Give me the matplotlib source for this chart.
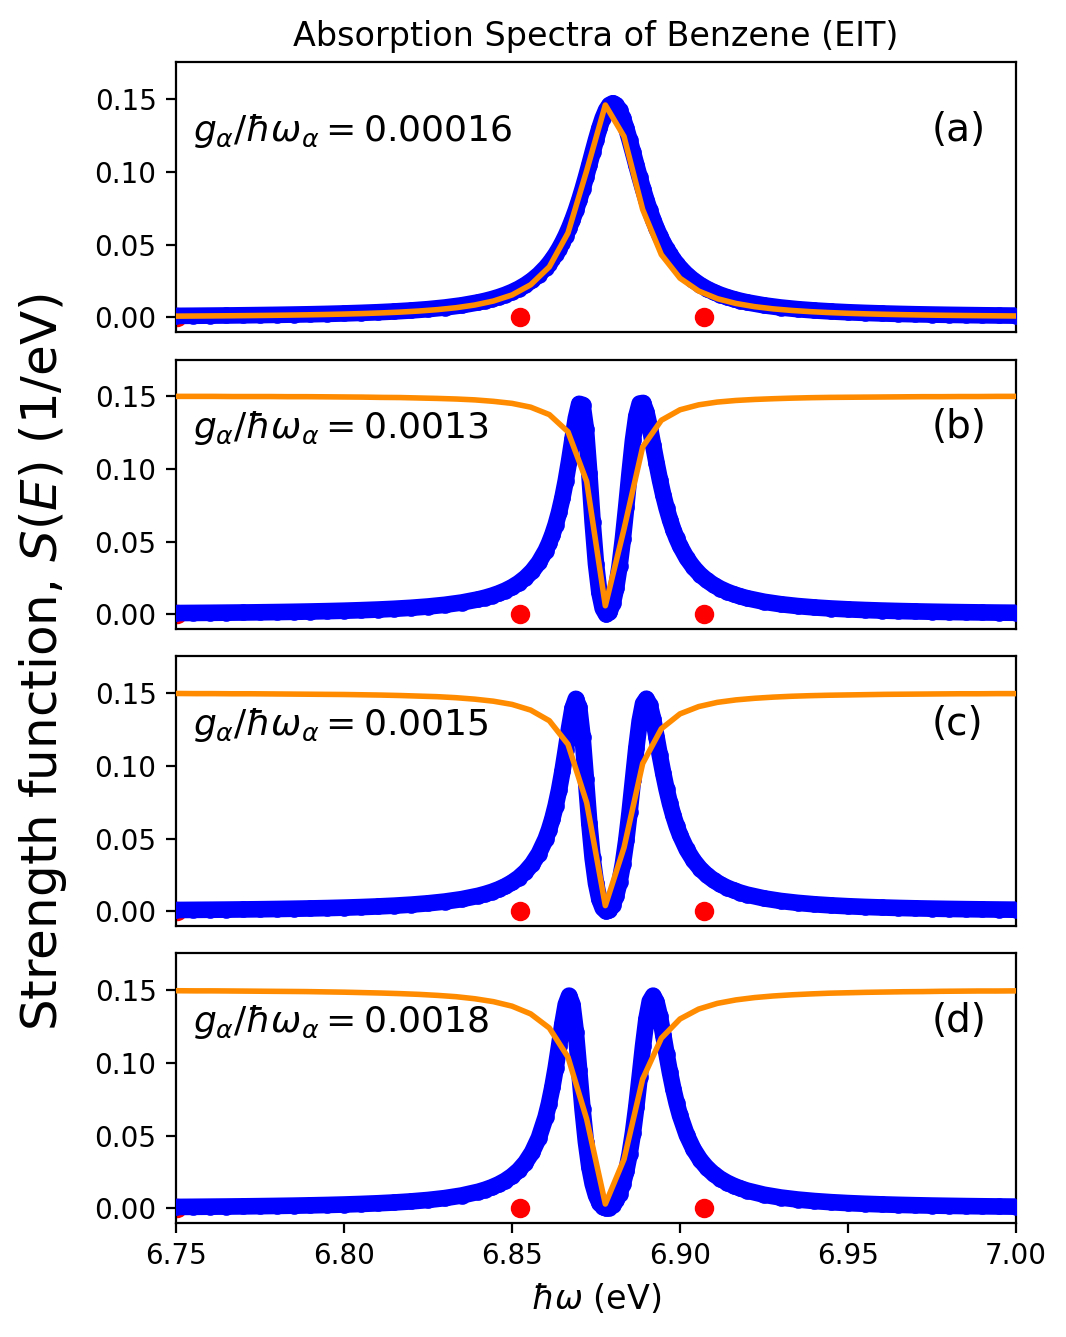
import numpy as np
import matplotlib
matplotlib.use("Agg")
import matplotlib.pyplot as plt

# ---------------- data ----------------
# dense model spectrum grid (eV), same for every panel
blue_x = np.concatenate([
    np.linspace(6.750, 6.835, 18),
    np.linspace(6.840, 6.858, 10),
    np.linspace(6.860, 6.899, 40),
    np.linspace(6.900, 6.918, 10),
    np.linspace(6.920, 7.000, 17),
])

blue_a = [0.00105, 0.00113, 0.00123, 0.00133, 0.00146, 0.0016, 0.00176, 0.00195, 0.00216, 0.00242,
          0.00273, 0.0031, 0.00354, 0.00409, 0.00478, 0.00565, 0.00679, 0.00829,
          0.01034, 0.01137, 0.01255, 0.01393, 0.01553, 0.01742, 0.01965, 0.02232, 0.02552, 0.0294,
          0.03414, 0.0369, 0.03997, 0.04338, 0.04718, 0.05141, 0.05611, 0.06133, 0.06712, 0.0735,
          0.08048, 0.08805, 0.09615, 0.1046, 0.1133, 0.1218, 0.1298, 0.1368, 0.1423, 0.1458,
          0.147, 0.1458, 0.1423, 0.1368, 0.1298, 0.1218, 0.1133, 0.1046, 0.09615, 0.08805,
          0.08048, 0.0735, 0.06712, 0.06133, 0.05611, 0.05141, 0.04718, 0.04338, 0.03997, 0.0369,
          0.03414, 0.0294, 0.02552, 0.02232, 0.01965, 0.01742, 0.01553, 0.01393, 0.01255, 0.01137,
          0.01034, 0.00829, 0.00679, 0.00565, 0.00478, 0.00409, 0.00354, 0.0031, 0.00273, 0.00242,
          0.00216, 0.00195, 0.00176, 0.0016, 0.00146, 0.00133, 0.00123]

blue_b = [0.00098, 0.00106, 0.00115, 0.00126, 0.00137, 0.00151, 0.00166, 0.00184, 0.00205, 0.0023,
          0.00259, 0.00295, 0.00338, 0.00392, 0.0046, 0.00548, 0.00664, 0.0082,
          0.01041, 0.01155, 0.01289, 0.01448, 0.0164, 0.01872, 0.02158, 0.02518, 0.02975, 0.03573,
          0.04372, 0.04874, 0.05467, 0.06168, 0.07005, 0.08001, 0.09177, 0.1054, 0.1203, 0.1347,
          0.1446, 0.1439, 0.1274, 0.0973, 0.0633, 0.0347, 0.0151, 0.00413, 0.00011, 0.0016,
          0.00777, 0.01825, 0.033, 0.0518, 0.0739, 0.0975, 0.1195, 0.1361, 0.1448, 0.1452,
          0.1389, 0.1286, 0.1164, 0.1042, 0.09265, 0.08227, 0.07313, 0.06515, 0.05826, 0.0523,
          0.04714, 0.03875, 0.03235, 0.02738, 0.02344, 0.0203, 0.01774, 0.01563, 0.01388, 0.01241,
          0.01115, 0.00874, 0.00704, 0.00579, 0.00484, 0.00411, 0.00353, 0.00307, 0.00269, 0.00238,
          0.00212, 0.0019, 0.00171, 0.00155, 0.00141, 0.00129, 0.00119]

blue_c = [0.00099, 0.00107, 0.00116, 0.00126, 0.00138, 0.00151, 0.00167, 0.00185, 0.00206, 0.00231,
          0.00261, 0.00298, 0.00342, 0.00397, 0.00467, 0.00558, 0.00678, 0.00842,
          0.01076, 0.01199, 0.01343, 0.01517, 0.01728, 0.01987, 0.0231, 0.02722, 0.0326, 0.03976,
          0.0496, 0.05593, 0.06345, 0.07256, 0.08333, 0.09606, 0.1106, 0.1259, 0.1393, 0.1459,
          0.1401, 0.12, 0.0907, 0.0609, 0.03654, 0.0193, 0.00832, 0.00229, 0.00006, 0.00092,
          0.00452, 0.01085, 0.02011, 0.03263, 0.0487, 0.06817, 0.09007, 0.1121, 0.1307, 0.1426,
          0.146, 0.1417, 0.1321, 0.1199, 0.1071, 0.095, 0.08397, 0.07429, 0.06592, 0.05869,
          0.05249, 0.04254, 0.03507, 0.02937, 0.02493, 0.02144, 0.01862, 0.01632, 0.01443, 0.01285,
          0.01151, 0.00897, 0.00718, 0.00589, 0.00491, 0.00416, 0.00357, 0.0031, 0.00272, 0.0024,
          0.00213, 0.00191, 0.00172, 0.00156, 0.00142, 0.0013, 0.00119]

blue_d = [0.00099, 0.00107, 0.00117, 0.00127, 0.00139, 0.00153, 0.00169, 0.00187, 0.00209, 0.00234,
          0.00265, 0.00303, 0.00349, 0.00406, 0.0048, 0.00576, 0.00705, 0.00884,
          0.01143, 0.01282, 0.01448, 0.0165, 0.019, 0.02215, 0.02616, 0.03145, 0.03858, 0.04848,
          0.0626, 0.07188, 0.08304, 0.09622, 0.1112, 0.1267, 0.1399, 0.146, 0.1399, 0.1211,
          0.09468, 0.06798, 0.04555, 0.0287, 0.01684, 0.0089, 0.00388, 0.00108, 0.00003, 0.00045,
          0.00224, 0.00543, 0.0102, 0.0168, 0.02565, 0.0372, 0.05185, 0.0697, 0.09017, 0.1113,
          0.1298, 0.1421, 0.146, 0.1418, 0.132, 0.1193, 0.106, 0.09341, 0.08212, 0.07228,
          0.06382, 0.05044, 0.04066, 0.03341, 0.02791, 0.02367, 0.02033, 0.01765, 0.01548, 0.01368,
          0.01219, 0.00938, 0.00745, 0.00607, 0.00504, 0.00425, 0.00364, 0.00315, 0.00275, 0.00243,
          0.00216, 0.00193, 0.00174, 0.00157, 0.00143, 0.00131, 0.0012]

# coarse spectrum grid (eV)
orange_x = np.linspace(6.75, 7.00, 46)

orange_a = [0.00087, 0.00095, 0.00104, 0.00114, 0.00126, 0.0014, 0.00157, 0.00176, 0.002, 0.00229,
            0.00264, 0.00308, 0.00364, 0.00437, 0.00533, 0.00664, 0.0085, 0.01123, 0.0154, 0.0224,
            0.0347, 0.058, 0.1007, 0.1458, 0.1242, 0.0741, 0.0431, 0.0269, 0.0181, 0.01285,
            0.00956, 0.00738, 0.00585, 0.00476, 0.00394, 0.00331, 0.00282, 0.00243, 0.00212, 0.00186,
            0.00165, 0.00147, 0.00132, 0.00119, 0.00108, 0.00098]

orange_b = [0.1497, 0.1497, 0.1497, 0.1496, 0.1496, 0.1496, 0.1495, 0.1495, 0.1494, 0.1493,
            0.1492, 0.149, 0.1489, 0.1486, 0.1483, 0.1479, 0.1473, 0.1463, 0.1449, 0.1423,
            0.1372, 0.1254, 0.0913, 0.006, 0.0586, 0.115, 0.1333, 0.1405, 0.1439, 0.1458,
            0.1469, 0.1476, 0.1481, 0.1485, 0.1488, 0.149, 0.1491, 0.1492, 0.1493, 0.1494,
            0.1495, 0.1495, 0.1496, 0.1496, 0.1497, 0.1497]

orange_c = [0.1496, 0.1495, 0.1495, 0.1494, 0.1494, 0.1493, 0.1492, 0.1491, 0.149, 0.1489,
            0.1487, 0.1485, 0.1482, 0.1478, 0.1474, 0.1467, 0.1457, 0.1443, 0.1421, 0.1382,
            0.1309, 0.1147, 0.0747, 0.004, 0.0438, 0.1015, 0.1254, 0.1356, 0.1406, 0.1435,
            0.1452, 0.1463, 0.1471, 0.1477, 0.1481, 0.1484, 0.1486, 0.1488, 0.149, 0.1491,
            0.1492, 0.1493, 0.1494, 0.1494, 0.1495, 0.1495]

orange_d = [0.1494, 0.1493, 0.1493, 0.1492, 0.1491, 0.149, 0.1489, 0.1488, 0.1486, 0.1484,
            0.1481, 0.1478, 0.1474, 0.1469, 0.1462, 0.1453, 0.1439, 0.1419, 0.1388, 0.1335,
            0.1238, 0.1038, 0.0613, 0.003, 0.0337, 0.0888, 0.1168, 0.13, 0.1368, 0.1407,
            0.1431, 0.1447, 0.1458, 0.1466, 0.1472, 0.1477, 0.148, 0.1483, 0.1485, 0.1487,
            0.1488, 0.149, 0.1491, 0.1492, 0.1492, 0.1493]

red_x = [6.7502, 6.8524, 6.9071]
red_y = [0.0, 0.0, 0.0]

couplings = ["0.00016", "0.0013", "0.0015", "0.0018"]
panel_tags = ["(a)", "(b)", "(c)", "(d)"]
blue_series = [blue_a, blue_b, blue_c, blue_d]
orange_series = [orange_a, orange_b, orange_c, orange_d]

xticks = [6.75, 6.80, 6.85, 6.90, 6.95, 7.00]
yticks = [0.00, 0.05, 0.10, 0.15]

# ---------------- figure ----------------
fig = plt.figure(figsize=(5.33, 6.685), dpi=200)

left, width, height = 0.1651, 0.788, 0.2016
bottoms = [0.7517, 0.5295, 0.3074, 0.0853]

axes = []
for i in range(4):
    ax = fig.add_axes([left, bottoms[i], width, height])
    axes.append(ax)
    ax.scatter(red_x, red_y, s=36, color="red", zorder=2, clip_on=True)
    ax.plot(blue_x, blue_series[i], color="blue", lw=6, solid_joinstyle="round",
            solid_capstyle="round", zorder=3)
    ax.scatter(blue_x, blue_series[i], s=36, color="blue", zorder=3, linewidths=0)
    ax.plot(orange_x, orange_series[i], color="darkorange", lw=2, zorder=4)
    ax.set_xlim(6.75, 7.00)
    ax.set_ylim(-0.01, 0.175)
    ax.set_yticks(yticks)
    ax.set_yticklabels([f"{v:.2f}" for v in yticks])
    ax.set_xticks(xticks)
    ax.text(0.02, 0.745, r"$g_\alpha/\hbar\omega_\alpha = %s$" % couplings[i],
            transform=ax.transAxes, fontsize=13, va="center", ha="left", zorder=1)
    ax.text(0.9, 0.75, panel_tags[i], transform=ax.transAxes, fontsize=14,
            va="center", ha="left")
    if i < 3:
        ax.tick_params(axis="x", bottom=False, labelbottom=False)
    else:
        ax.set_xticklabels([f"{v:.2f}" for v in xticks])
        ax.set_xlabel(r"$\hbar\omega$ (eV)", fontsize=12)

axes[0].set_title("Absorption Spectra of Benzene (EIT)", fontsize=12)
fig.text(0.040, 0.505, r"Strength function, $S(E)$ (1/eV)", rotation=90,
         va="center", ha="center", fontsize=18)

fig.savefig("out.png", dpi=200)
